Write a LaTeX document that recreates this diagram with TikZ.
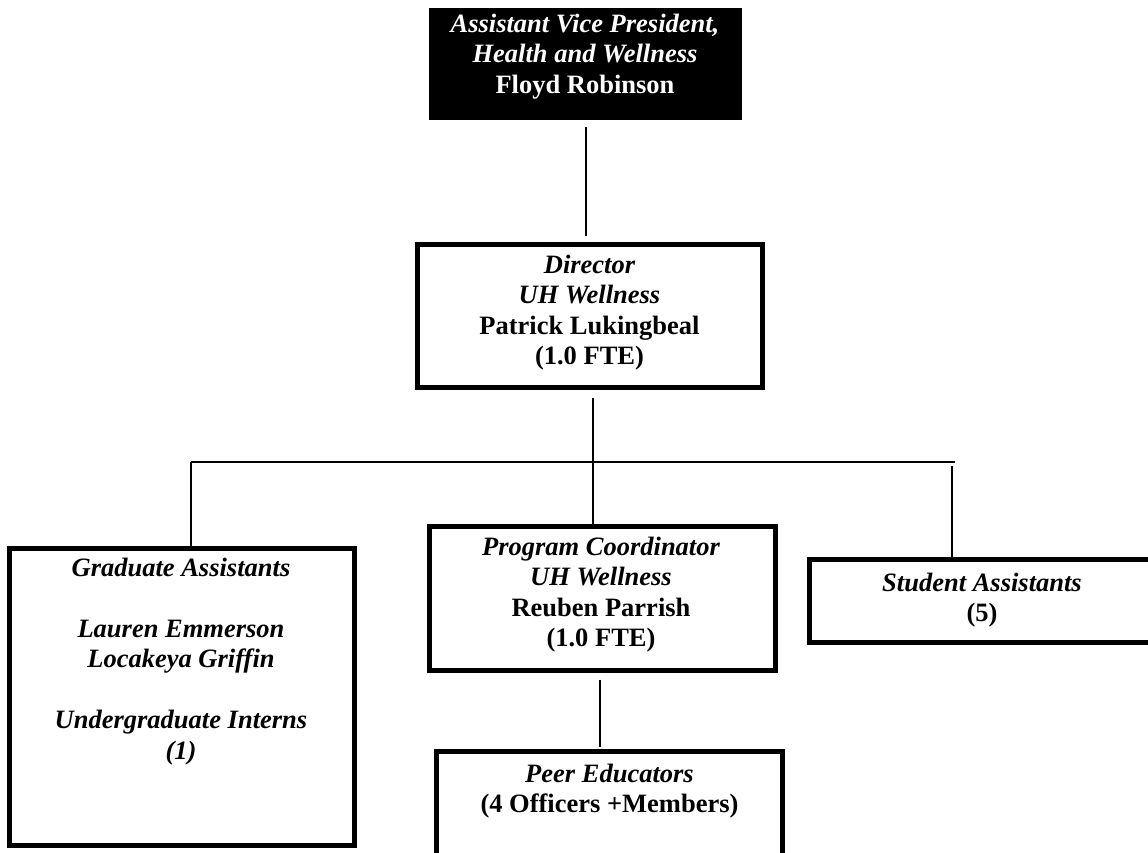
\documentclass[tikz,border=0pt]{standalone}
\usepackage{fontspec}
\setmainfont{Liberation Serif}
\begin{document}
\begin{tikzpicture}[x=1pt,y=-1pt,
  box/.style={draw=black,line width=5pt,inner sep=0pt,minimum width=345pt},
  conn/.style={draw=black,line width=2pt},
  txt/.style={inner sep=0pt,align=center,anchor=north,font=\fontsize{26.5}{30.5}\selectfont\bfseries}]
\clip (0,0) rectangle (1148,853);
\fill[white] (0,0) rectangle (1148,853);
\useasboundingbox (0,0) rectangle (1148,853);

% boxes
\node[fill=black,inner sep=0pt,minimum width=313pt,minimum height=112pt] (avp) at (585.5,64) {};
\node[box,minimum height=143pt] (dir) at (590,316) {};
\node[box,minimum height=297pt] (gra) at (182,697) {};
\node[box,minimum width=346pt,minimum height=144pt] (pco) at (602.5,598.5) {};
\node[box,minimum height=83pt] (stu) at (982,601) {};
\node[box,minimum width=346pt,minimum height=146pt] (peer) at (609.5,824.5) {};

% texts
\node[txt,text=white] (avpt) at (585,10.65) {{\strut\itshape Assistant Vice President,}\\ {\itshape Health and Wellness}\\ Floyd Robinson};
\node[txt] (dirt) at (589.5,251.65) {{\strut\itshape Director}\\ {\itshape UH Wellness}\\ Patrick Lukingbeal\\ (1.0 FTE)};
\node[txt] (grat) at (181,554.65) {{\strut\itshape Graduate Assistants}\\[30.5pt] {\itshape Lauren Emmerson}\\ {\itshape Locakeya Griffin}\\[30.5pt] {\itshape Undergraduate Interns}\\ {\itshape (1)}};
\node[txt] (pcot) at (601,533.65) {{\strut\itshape Program Coordinator}\\ {\itshape UH Wellness}\\ Reuben Parrish\\ (1.0 FTE)};
\node[txt] (stut) at (982,569.65) {{\strut\itshape Student Assistants}\\ (5)};
\node[txt] (peert) at (609.5,760.65) {{\strut\itshape Peer Educators}\\ (4 Officers +Members)};

% connectors
\coordinate (hl) at (191,462);
\coordinate (hr) at (955,462);
\coordinate (hm) at (593,462);
\coordinate (sv) at (952,466);
\coordinate (pv) at (600,700);
\draw[conn,shorten <=7pt,shorten >=6.5pt] (avp.south) -- (avp.south |- dir.north);
\draw[conn,shorten <=7.5pt] (dir.south -| hm) -- (pco.north -| hm);
\draw[conn] (hl) -- (hr);
\draw[conn] (hl) -- (gra.north -| hl);
\draw[conn] (sv) -- (stu.north -| sv);
\draw[conn,shorten <=6.5pt,shorten >=2pt] (pco.south -| pv) -- (peer.north -| pv);
\end{tikzpicture}
\end{document}
